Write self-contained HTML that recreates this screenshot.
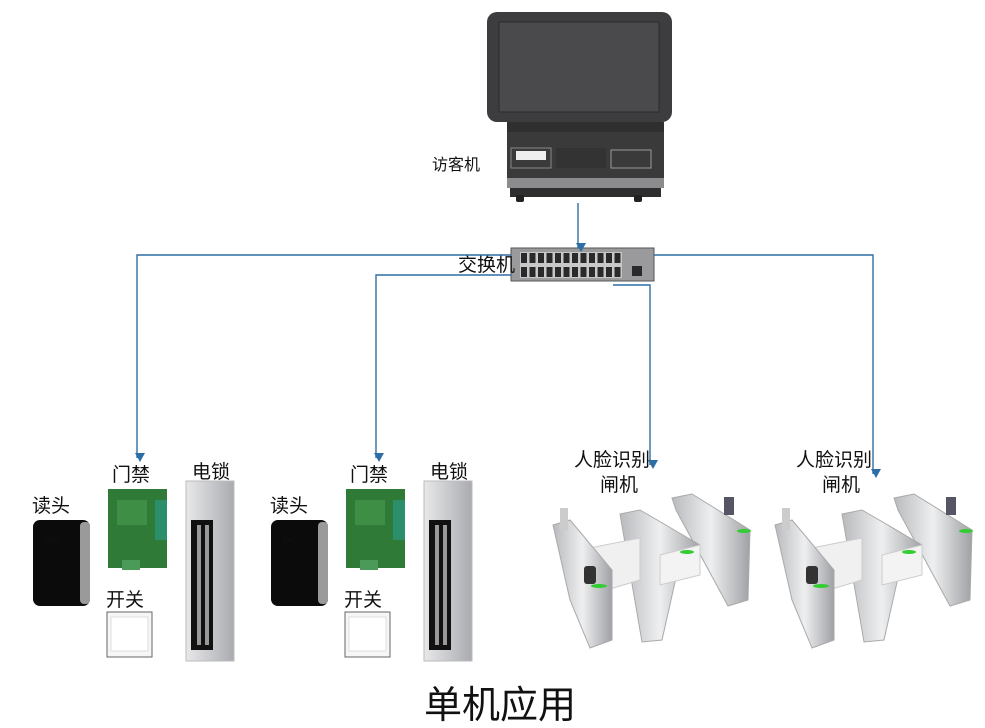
<!DOCTYPE html>
<html><head><meta charset="utf-8"><style>
html,body{margin:0;padding:0;background:#fff}
svg{display:block}
text{font-family:"Liberation Sans","Noto Sans CJK SC",sans-serif;fill:#111}
</style></head><body>
<svg width="985" height="728" viewBox="0 0 985 728" xmlns="http://www.w3.org/2000/svg">
<defs>
<marker id="ar" markerWidth="10" markerHeight="10" refX="5" refY="8" orient="auto" markerUnits="userSpaceOnUse">
<path d="M0,0 L5,9 L10,0 Z" fill="#2e6ea6" transform="rotate(-90 5 5)"/>
</marker>
<linearGradient id="silver" x1="0" x2="1">
<stop offset="0" stop-color="#e8e8ea"/><stop offset="0.5" stop-color="#c9cacd"/><stop offset="1" stop-color="#a9abaf"/>
</linearGradient>
<linearGradient id="pole" x1="0" x2="1">
<stop offset="0" stop-color="#b8babd"/><stop offset="0.5" stop-color="#eeeff0"/><stop offset="1" stop-color="#9fa1a5"/>
</linearGradient>
</defs>

<!-- Kiosk -->
<rect x="487" y="12" width="185" height="110" rx="10" fill="#3d3d3f"/>
<rect x="499" y="22" width="160" height="90" fill="#4a4a4c" stroke="#2a2a2a"/>
<rect x="507" y="122" width="157" height="58" fill="#3a3a3b"/>
<rect x="507" y="122" width="157" height="10" fill="#2f2f30"/>
<rect x="511" y="148" width="40" height="20" fill="none" stroke="#888"/>
<rect x="516" y="151" width="30" height="9" fill="#eee"/>
<rect x="611" y="150" width="40" height="18" fill="none" stroke="#999"/>
<rect x="556" y="148" width="50" height="20" fill="#333"/>
<rect x="507" y="178" width="157" height="10" fill="#8c8c8e"/>
<rect x="510" y="188" width="151" height="9" fill="#2e2e2f"/>
<rect x="516" y="195" width="8" height="7" rx="2" fill="#222"/>
<rect x="634" y="195" width="8" height="7" rx="2" fill="#222"/>
<text x="432" y="170" font-size="16">访客机</text>

<!-- Switch -->
<rect x="511" y="248" width="143" height="33" fill="#9a9a9c" stroke="#555"/>
<rect x="520" y="252" width="102" height="13" fill="#c8c8c8"/>
<rect x="520" y="265" width="102" height="13" fill="#c8c8c8"/>
<g fill="#2a2a2a">
<rect x="521" y="253" width="6" height="10"/><rect x="529.5" y="253" width="6" height="10"/><rect x="538" y="253" width="6" height="10"/><rect x="546.5" y="253" width="6" height="10"/><rect x="555" y="253" width="6" height="10"/><rect x="563.5" y="253" width="6" height="10"/><rect x="572" y="253" width="6" height="10"/><rect x="580.5" y="253" width="6" height="10"/><rect x="589" y="253" width="6" height="10"/><rect x="597.5" y="253" width="6" height="10"/><rect x="606" y="253" width="6" height="10"/><rect x="614.5" y="253" width="6" height="10"/>
<rect x="521" y="267" width="6" height="10"/><rect x="529.5" y="267" width="6" height="10"/><rect x="538" y="267" width="6" height="10"/><rect x="546.5" y="267" width="6" height="10"/><rect x="555" y="267" width="6" height="10"/><rect x="563.5" y="267" width="6" height="10"/><rect x="572" y="267" width="6" height="10"/><rect x="580.5" y="267" width="6" height="10"/><rect x="589" y="267" width="6" height="10"/><rect x="597.5" y="267" width="6" height="10"/><rect x="606" y="267" width="6" height="10"/><rect x="614.5" y="267" width="6" height="10"/>
<rect x="632" y="266" width="10" height="10"/>
</g>
<text x="458" y="271" font-size="19">交换机</text>

<!-- Connectors -->
<g stroke="#2e6ea6" stroke-width="1.4" fill="none">
<line x1="578" y1="203" x2="578" y2="248" marker-end="url(#ar)"/>
<polyline points="511,255 137,255 137,458" marker-end="url(#ar)"/>
<polyline points="511,275 376,275 376,458" marker-end="url(#ar)"/>
<polyline points="654,255 873,255 873,474" marker-end="url(#ar)"/>
<polyline points="613,285 650,285 650,465" marker-end="url(#ar)"/>
</g>

<!-- Access group -->
<g id="grp1">
<rect x="33" y="520" width="57" height="86" rx="7" fill="#0b0b0c"/>
<rect x="80" y="522" width="10" height="82" rx="4" fill="#9a9a9a"/>
<text x="44" y="543" font-size="9" fill="#ccc">((•))</text>
<text x="32" y="512" font-size="19">读头</text>
<text x="112" y="481" font-size="19">门禁</text>
<rect x="108" y="489" width="59" height="79" fill="#2f7a36"/>
<rect x="117" y="500" width="30" height="25" fill="#3f8e45"/>
<rect x="155" y="500" width="12" height="40" fill="#2a8f6a"/>
<rect x="122" y="560" width="18" height="10" fill="#4c9a5a"/>
<text x="192" y="478" font-size="19">电锁</text>
<rect x="186" y="481" width="48" height="180" fill="url(#silver)" stroke="#bbb"/>
<rect x="191" y="520" width="22" height="130" fill="#111"/>
<rect x="197" y="525" width="4" height="120" fill="#999"/>
<rect x="205" y="525" width="4" height="120" fill="#999"/>
<text x="106" y="606" font-size="19">开关</text>
<rect x="107" y="612" width="45" height="45" fill="#f6f6f6" stroke="#666"/>
<rect x="111" y="617" width="37" height="34" fill="#fff" stroke="#ddd"/>
</g>
<use href="#grp1" transform="translate(238,0)"/>

<!-- Gates -->
<g id="gate">
<text x="574" y="466" font-size="19">人脸识别</text>
<text x="600" y="491" font-size="19">闸机</text>
<!-- back pillar -->
<polygon points="672,498 692,494 750,530 748,600 728,606 676,510" fill="url(#pole)" stroke="#aaa"/>
<!-- middle pillar -->
<polygon points="620,514 640,510 700,545 700,558 680,560 662,640 642,642" fill="url(#pole)" stroke="#aaa"/>
<!-- glass panels -->
<polygon points="590,548 640,538 640,580 600,592" fill="#f0f0f0" stroke="#ccc"/>
<polygon points="660,555 700,545 700,575 660,585" fill="#f3f3f3" stroke="#ccc"/>
<!-- front pillar -->
<polygon points="553,525 570,520 612,570 612,640 590,648 570,600" fill="url(#pole)" stroke="#aaa"/>
<rect x="560" y="508" width="8" height="22" fill="#ccc"/>
<rect x="584" y="566" width="12" height="18" rx="3" fill="#333"/>
<ellipse cx="599" cy="586" rx="8" ry="2" fill="#3c3"/>
<ellipse cx="687" cy="552" rx="7" ry="2" fill="#3c3"/>
<ellipse cx="744" cy="531" rx="7" ry="2" fill="#3c3"/>
<rect x="724" y="497" width="10" height="18" fill="#556"/>
</g>
<use href="#gate" transform="translate(222,0)"/>

<text x="424" y="718" font-size="38">单机应用</text>
</svg>
</body></html>
